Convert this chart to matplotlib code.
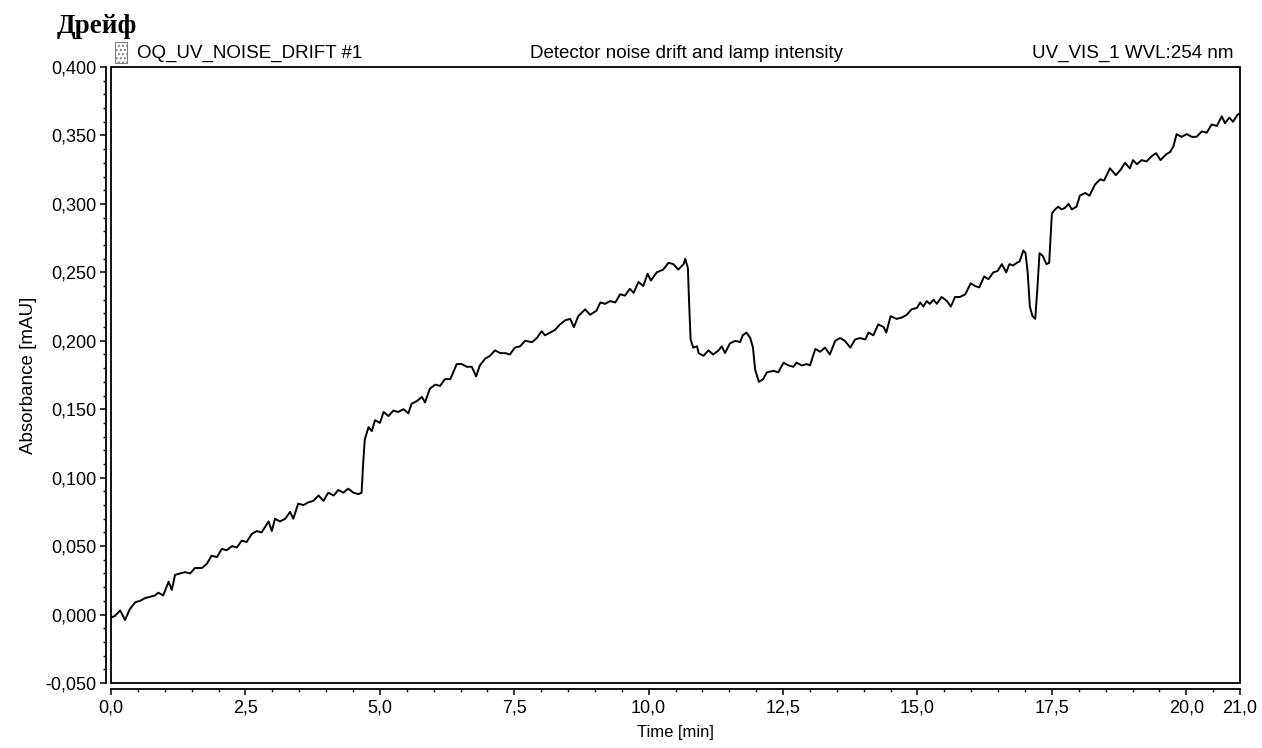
import matplotlib
matplotlib.use("Agg")
import matplotlib.pyplot as plt
from matplotlib.patches import Rectangle
from matplotlib.ticker import MultipleLocator, FuncFormatter, FixedLocator

# Trace (time in min, absorbance in mAU)
time_min = [
    0.01, 0.07, 0.17, 0.26, 0.35, 0.45, 0.54, 0.63, 0.73, 0.82, 0.88, 0.97,
    1.07, 1.13, 1.19, 1.28, 1.38, 1.47, 1.56, 1.69, 1.78, 1.87, 1.97, 2.06,
    2.15, 2.25, 2.34, 2.43, 2.52, 2.62, 2.71, 2.80, 2.93, 2.99, 3.05, 3.14,
    3.24, 3.33, 3.39, 3.48, 3.58, 3.67, 3.76, 3.86, 3.95, 4.04, 4.14, 4.23,
    4.32, 4.41, 4.51, 4.60, 4.66, 4.69, 4.72, 4.79, 4.85, 4.91, 5.00, 5.07,
    5.16, 5.25, 5.34, 5.44, 5.53, 5.59, 5.69, 5.78, 5.84, 5.93, 6.03, 6.12,
    6.21, 6.31, 6.43, 6.52, 6.62, 6.71, 6.79, 6.86, 6.96, 7.05, 7.14, 7.24,
    7.33, 7.42, 7.51, 7.61, 7.70, 7.83, 7.92, 8.01, 8.07, 8.17, 8.26, 8.35,
    8.45, 8.54, 8.61, 8.69, 8.82, 8.91, 9.03, 9.10, 9.19, 9.28, 9.38, 9.47,
    9.56, 9.65, 9.72, 9.81, 9.90, 9.98, 10.04, 10.15, 10.27, 10.37, 10.46,
    10.55, 10.65, 10.68, 10.73, 10.75, 10.78, 10.83, 10.90, 10.93, 11.02,
    11.11, 11.20, 11.30, 11.36, 11.42, 11.51, 11.61, 11.70, 11.75, 11.82,
    11.89, 11.94, 11.98, 12.05, 12.13, 12.20, 12.32, 12.41, 12.51, 12.60,
    12.69, 12.75, 12.85, 12.94, 13.00, 13.10, 13.19, 13.28, 13.37, 13.47,
    13.56, 13.65, 13.75, 13.84, 13.93, 14.03, 14.09, 14.18, 14.27, 14.37,
    14.42, 14.50, 14.61, 14.71, 14.80, 14.89, 14.99, 15.05, 15.11, 15.17,
    15.23, 15.30, 15.36, 15.45, 15.55, 15.62, 15.70, 15.79, 15.89, 15.99,
    16.07, 16.15, 16.24, 16.32, 16.41, 16.49, 16.57, 16.65, 16.71, 16.78,
    16.85, 16.90, 16.97, 17.01, 17.05, 17.09, 17.14, 17.19, 17.23, 17.27,
    17.33, 17.40, 17.45, 17.50, 17.56, 17.62, 17.68, 17.74, 17.81, 17.87,
    17.96, 18.02, 18.12, 18.20, 18.30, 18.40, 18.47, 18.58, 18.69, 18.78,
    18.86, 18.95, 19.01, 19.08, 19.17, 19.26, 19.36, 19.44, 19.52, 19.62,
    19.70, 19.76, 19.82, 19.91, 20.01, 20.10, 20.19, 20.29, 20.38, 20.47,
    20.57, 20.66, 20.72, 20.80, 20.87, 20.95, 20.99,
]
absorbance = [
    -0.002, -0.001, 0.003, -0.004, 0.004, 0.009, 0.010, 0.012, 0.013, 0.014, 0.016, 0.014,
    0.024, 0.018, 0.029, 0.030, 0.031, 0.030, 0.034, 0.034, 0.037, 0.043, 0.042, 0.048,
    0.047, 0.050, 0.049, 0.054, 0.053, 0.059, 0.061, 0.060, 0.068, 0.061, 0.070, 0.068,
    0.070, 0.075, 0.070, 0.081, 0.080, 0.082, 0.083, 0.087, 0.083, 0.089, 0.087, 0.091,
    0.089, 0.092, 0.089, 0.088, 0.089, 0.111, 0.128, 0.137, 0.134, 0.142, 0.140, 0.148,
    0.145, 0.149, 0.148, 0.150, 0.147, 0.154, 0.156, 0.159, 0.155, 0.165, 0.168, 0.167,
    0.172, 0.172, 0.183, 0.183, 0.181, 0.181, 0.174, 0.182, 0.187, 0.189, 0.193, 0.191,
    0.191, 0.190, 0.195, 0.196, 0.200, 0.199, 0.202, 0.207, 0.204, 0.206, 0.208, 0.212,
    0.215, 0.216, 0.210, 0.218, 0.223, 0.219, 0.222, 0.228, 0.227, 0.229, 0.228, 0.234,
    0.233, 0.238, 0.235, 0.243, 0.240, 0.249, 0.244, 0.250, 0.252, 0.257, 0.256,
    0.252, 0.256, 0.260, 0.253, 0.230, 0.201, 0.195, 0.196, 0.191, 0.189,
    0.193, 0.190, 0.193, 0.196, 0.191, 0.198, 0.200, 0.199, 0.204, 0.206,
    0.202, 0.195, 0.179, 0.170, 0.172, 0.177, 0.178, 0.177, 0.184, 0.182,
    0.181, 0.184, 0.182, 0.183, 0.182, 0.194, 0.192, 0.195, 0.190, 0.200,
    0.202, 0.200, 0.195, 0.201, 0.202, 0.201, 0.206, 0.204, 0.212, 0.210,
    0.206, 0.218, 0.216, 0.217, 0.219, 0.223, 0.224, 0.228, 0.225, 0.229,
    0.227, 0.230, 0.227, 0.232, 0.229, 0.225, 0.232, 0.232, 0.234, 0.242,
    0.240, 0.239, 0.247, 0.245, 0.250, 0.251, 0.256, 0.250, 0.256, 0.255,
    0.257, 0.258, 0.266, 0.264, 0.250, 0.225, 0.218, 0.216, 0.238, 0.264,
    0.262, 0.256, 0.257, 0.293, 0.296, 0.298, 0.296, 0.297, 0.300, 0.296,
    0.298, 0.306, 0.308, 0.306, 0.314, 0.318, 0.317, 0.326, 0.321, 0.325,
    0.330, 0.326, 0.332, 0.329, 0.332, 0.331, 0.335, 0.337, 0.332, 0.336,
    0.338, 0.342, 0.351, 0.349, 0.351, 0.349, 0.349, 0.353, 0.352, 0.358,
    0.357, 0.364, 0.359, 0.363, 0.360, 0.365, 0.366,
]

x_ticks = [0, 2.5, 5, 7.5, 10, 12.5, 15, 17.5, 20, 21]

plt.rcParams['font.family'] = ['Liberation Sans', 'DejaVu Sans']

fig = plt.figure(figsize=(12.62, 7.48), dpi=100)
ax = fig.add_axes([0.0880, 0.0869, 0.8946, 0.8235])

ax.plot(time_min, absorbance, color='black', lw=1.4)

ax.set_xlim(0, 21)
ax.set_ylim(-0.05, 0.4)

# plot frame, axes lines sit a few pixels outside it
ax.add_patch(Rectangle((0, 0), 1, 1, transform=ax.transAxes, fill=False,
                       lw=1.3, edgecolor='black', clip_on=False))
for s in ['left', 'bottom']:
    ax.spines[s].set_position(('outward', 4))
    ax.spines[s].set_linewidth(1.3)
for s in ['top', 'right']:
    ax.spines[s].set_visible(False)

ax.xaxis.set_major_locator(FixedLocator(x_ticks))
ax.xaxis.set_minor_locator(MultipleLocator(0.5))
ax.yaxis.set_major_locator(MultipleLocator(0.05))
ax.yaxis.set_minor_locator(MultipleLocator(0.01))
ax.xaxis.set_major_formatter(FuncFormatter(lambda v, p: ('%.1f' % v).replace('.', ',')))
ax.yaxis.set_major_formatter(FuncFormatter(lambda v, p: ('%.3f' % v).replace('.', ',')))
ax.tick_params(which='major', length=4.5, width=1.1, labelsize=13, direction='out')
ax.tick_params(which='minor', length=2.5, width=1.0, direction='out')
ax.tick_params(axis='y', which='major', pad=2)

ax.set_xlabel('Time [min]', fontsize=12, labelpad=6)
ax.set_ylabel('Absorbance [mAU]', fontsize=13.5, labelpad=6)

# header
fig.text(57 / 1262, 1 - 33 / 748, 'Дрейф', fontsize=19.5, fontweight='bold',
         family=['Liberation Serif', 'DejaVu Serif'], va='baseline', ha='left')
fig.patches.append(Rectangle((115 / 1262, 1 - 63 / 748), 12 / 1262, 21 / 748,
                             transform=fig.transFigure, fill=False, hatch='....',
                             edgecolor='gray', lw=0.8))
fig.text(137 / 1262, 1 - 53 / 748, 'OQ_UV_NOISE_DRIFT #1', fontsize=13.5, va='center', ha='left')
fig.text(686 / 1262, 1 - 53 / 748, 'Detector noise drift and lamp intensity', fontsize=13.5,
         va='center', ha='center')
fig.text(1234 / 1262, 1 - 53 / 748, 'UV_VIS_1 WVL:254 nm', fontsize=13.5, va='center', ha='right')

fig.savefig('out.png', dpi=100)
